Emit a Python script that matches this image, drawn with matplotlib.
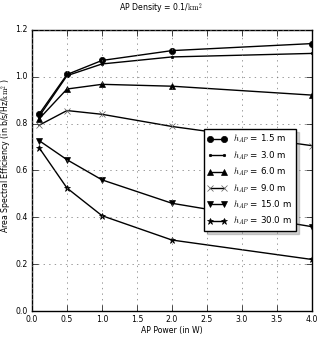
import numpy as np
import matplotlib
matplotlib.use('Agg')
import matplotlib.pyplot as plt

plt.style.use('classic')

# AP power (W)
power = [0.1, 0.5, 1.0, 2.0, 4.0]
heights = [1.5, 3.0, 6.0, 9.0, 15.0, 30.0]
markers = ['o', '.', '^', 'x', 'v', '*']

ase_1_5 = [0.84, 1.01, 1.07, 1.112, 1.142]
ase_3_0 = [0.83, 1.005, 1.055, 1.085, 1.10]
ase_6_0 = [0.82, 0.948, 0.968, 0.96, 0.922]
ase_9_0 = [0.793, 0.856, 0.84, 0.788, 0.706]
ase_15_0 = [0.728, 0.646, 0.56, 0.46, 0.36]
ase_30_0 = [0.698, 0.525, 0.407, 0.303, 0.22]
series = [ase_1_5, ase_3_0, ase_6_0, ase_9_0, ase_15_0, ase_30_0]

FS = 5.6

fig = plt.figure(figsize=(3.22, 3.38), dpi=100, facecolor='white')
ax = fig.add_axes([32/322, 1-311/338, 280/322, 281/338])

for h, m, vals in zip(heights, markers, series):
    ms = 4.5
    if m == '.':
        ms = 3.5
    ax.plot(power, vals, color='k', marker=m, markersize=ms, lw=1,
            markeredgecolor='k' if m != 'x' else '0.35',
            label=r'$h_{AP}$' + ' = %.1f m' % h)

ax.set_xlim(0, 4)
ax.set_ylim(0, 1.2)
ax.set_xticks(np.arange(0, 4.01, 0.5))
ax.set_yticks(np.arange(0, 1.21, 0.2))
ax.tick_params(labelsize=FS, pad=3)
ax.grid(True, color='0.45')
ax.set_xlabel('AP Power (in W)', fontsize=FS)
ax.set_ylabel(r'Area Spectral Efficiency (in b/s/Hz/$\mathrm{km}^2$ )', fontsize=FS)
ax.xaxis.set_label_coords(0.5, -15/281)
ax.yaxis.set_label_coords(-18/280, 0.552)
fig.text(0.5, 1-9/338, r'AP Density = 0.1/$\mathrm{km}^2$', ha='center', va='center', fontsize=FS)

leg = ax.legend(loc='upper left', bbox_to_anchor=(0.614, 0.648), fontsize=6.3,
                numpoints=2, handlelength=2.2, borderpad=0.45, labelspacing=0.45,
                handletextpad=0.7, fancybox=False, shadow={'alpha': 0.25},
                borderaxespad=0)
leg.get_frame().set_edgecolor('k')

fig.savefig('out.png', dpi=100, facecolor='white')
